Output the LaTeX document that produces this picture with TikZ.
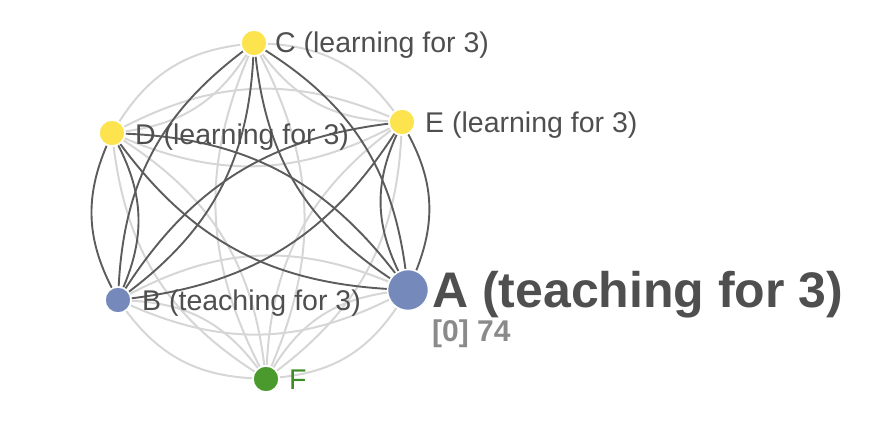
\documentclass[tikz,border=0pt]{standalone}
\usepackage{fontspec}
\setmainfont{Liberation Sans}
\usetikzlibrary{backgrounds}
\definecolor{ylw}{HTML}{FDE44F}
\definecolor{blu}{HTML}{7589BB}
\definecolor{grn}{HTML}{4A9A2E}
\definecolor{grntxt}{HTML}{3D8B25}
\definecolor{txt}{HTML}{4F4F4F}
\definecolor{subtxt}{HTML}{8A8A8A}
\definecolor{dkedge}{HTML}{5C5C5C}
\definecolor{ltedge}{HTML}{D6D6D6}
\begin{document}
\begin{tikzpicture}[x=1pt,y=-1pt,
  dot/.style={circle,draw=white,line width=1.5pt,inner sep=0pt,minimum size=26pt},
  lrn/.style={dot,fill=ylw},
  tch/.style={dot,fill=blu},
  dk/.style={draw=dkedge,line width=1.9pt},
  lt/.style={draw=ltedge,line width=2pt},
  lbl/.style={anchor=base west,inner sep=0pt,text=txt,font=\fontsize{28.5}{34}\selectfont}]
\useasboundingbox (0,0) rectangle (890,422);
% nodes
\node[lrn] (c) at (254,43) {};
\node[lrn] (e) at (402,122) {};
\node[lrn] (d) at (112,133) {};
\node[tch] (b) at (118,300) {};
\node[tch,minimum size=41pt] (a) at (408,290) {};
\node[dot,fill=grn] (f) at (266,379) {};
% edges
\begin{pgfonlayer}{background}
\foreach \u/\v in {a/b,c/d,c/e,d/e,f/a,f/b,f/c,f/d,f/e} {
  \draw[lt] (\u) to[bend left=25] (\v);
  \draw[lt] (\u) to[bend right=25] (\v);
}
\foreach \u/\v in {a/c,a/d,a/e,b/c,b/d,b/e} {
  \draw[dk] (\u) to[bend left=25] (\v);
  \draw[dk] (\u) to[bend right=25] (\v);
}
\end{pgfonlayer}
% labels
\node[lbl] (lc) at (275,53) {C (learning for 3)};
\node[lbl] (le) at (425,133) {E (learning for 3)};
\node[lbl] (ld) at (135,145) {D (learning for 3)};
\node[lbl] (lb) at (142,310) {B (teaching for 3)};
\node[lbl,text=grntxt] (lf) at (289,389) {F};
\node[lbl,font=\fontsize{50}{60}\selectfont\bfseries] (la) at (432,307) {A (teaching for 3)};
\node[lbl,text=subtxt,font=\fontsize{30}{36}\selectfont\bfseries] (ls) at (432,341) {[0] 74};
\end{tikzpicture}
\end{document}
